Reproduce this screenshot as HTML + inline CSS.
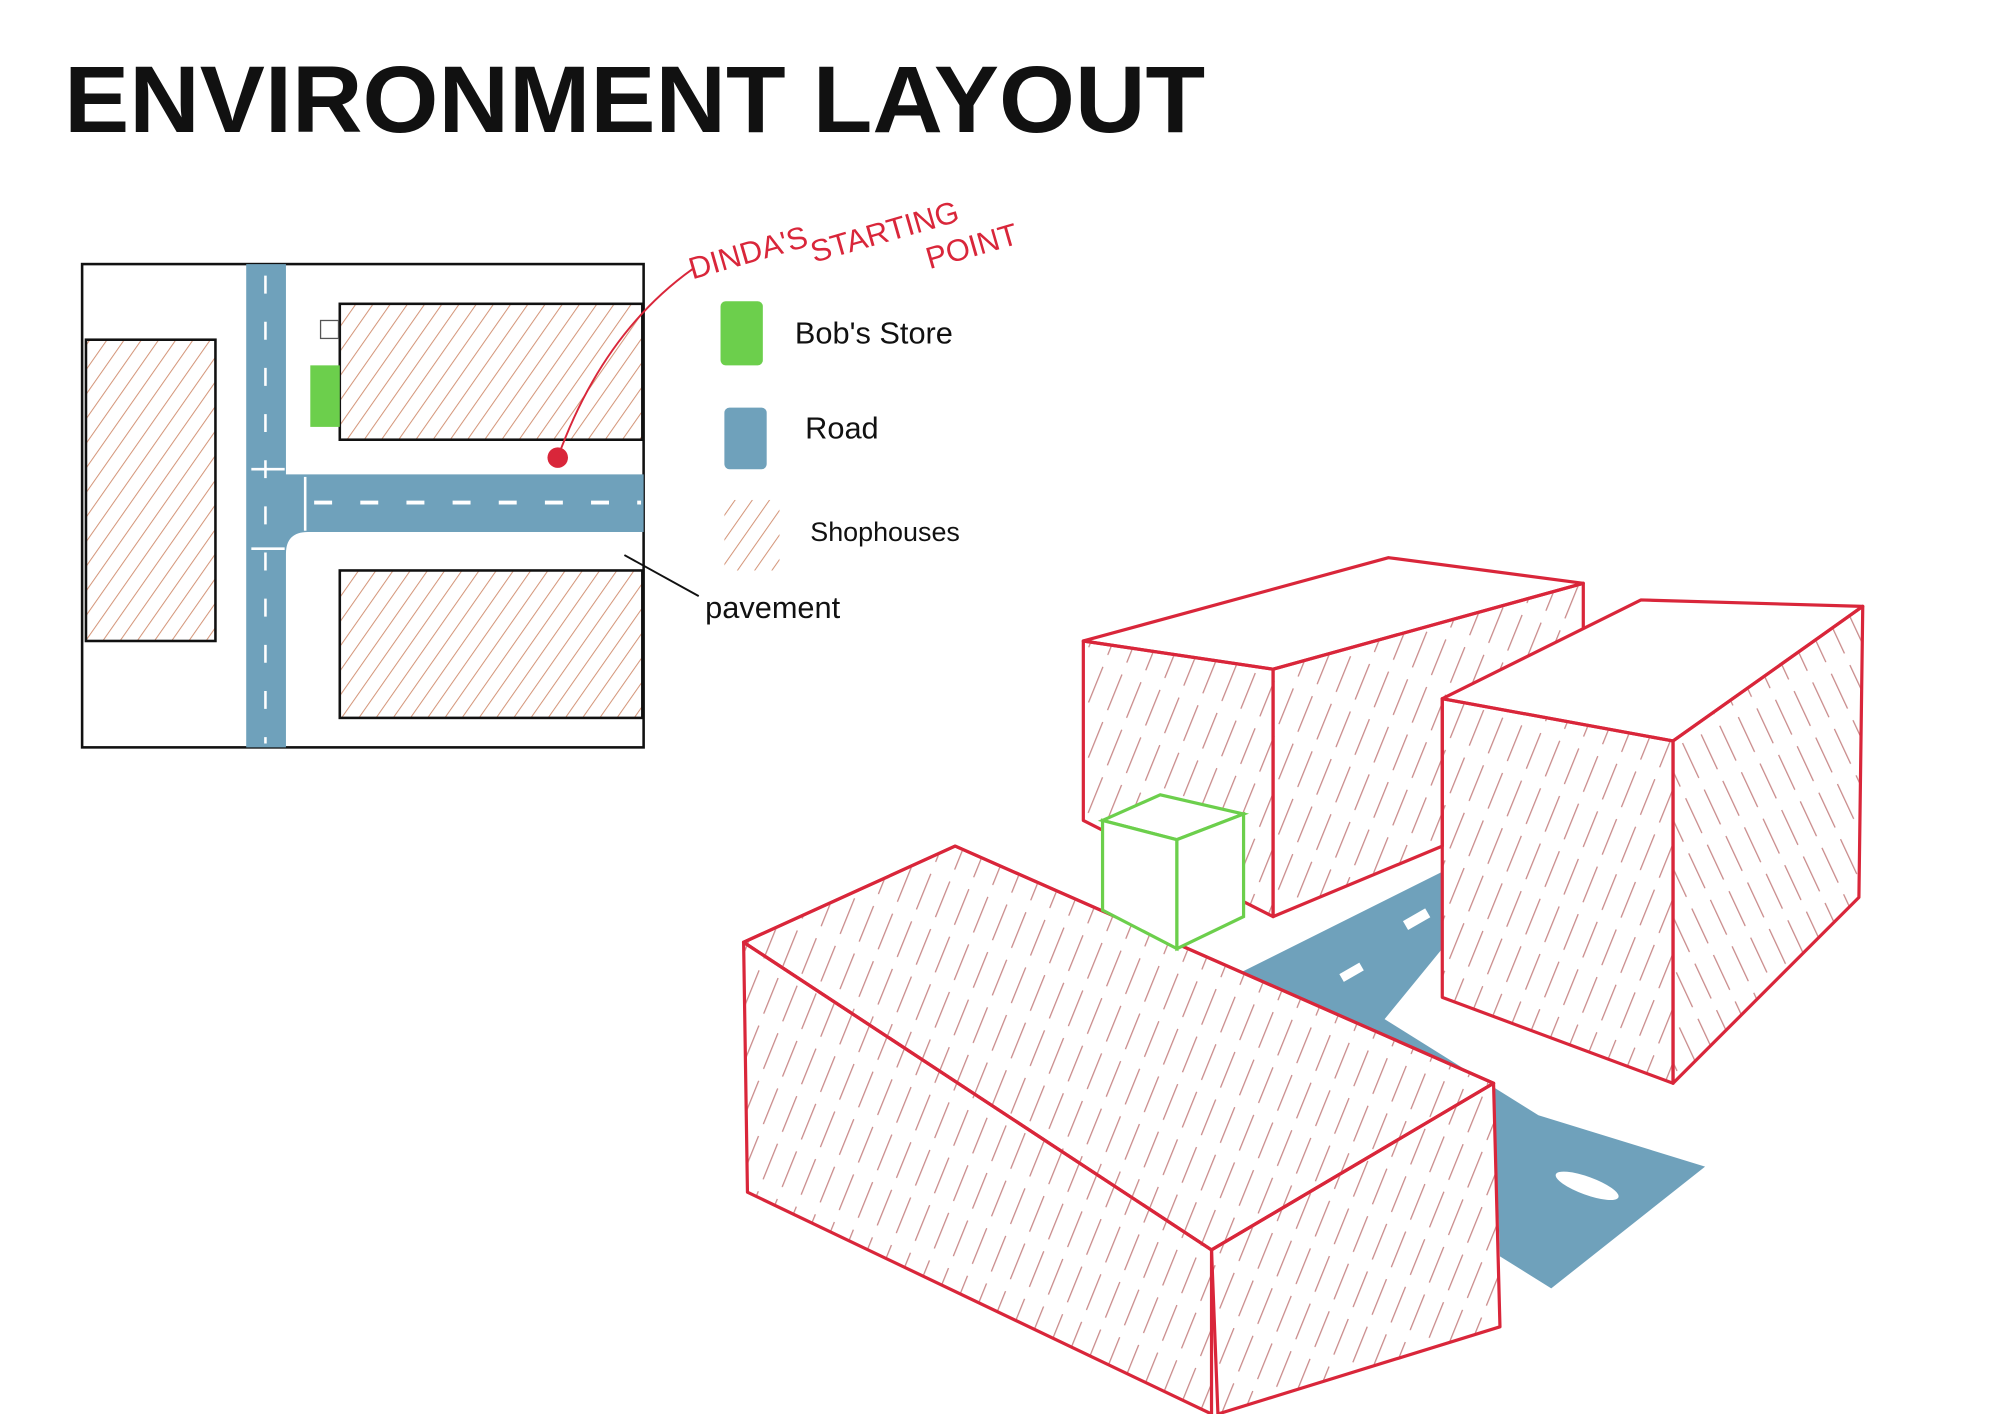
<!DOCTYPE html>
<html><head><meta charset="utf-8"><style>
html,body{margin:0;padding:0;background:#fff;}
svg{display:block;}
</style></head><body>
<svg width="2000" height="1414" viewBox="0 0 1560 1103" xmlns="http://www.w3.org/2000/svg">
<defs>
<pattern id="hb" patternUnits="userSpaceOnUse" width="11" height="11" patternTransform="rotate(35)">
<line x1="0" y1="0" x2="0" y2="11" stroke="#d4967a" stroke-width="1.6"/></pattern>
<pattern id="hr" patternUnits="userSpaceOnUse" width="16" height="40" patternTransform="rotate(22)">
<line x1="0" y1="0" x2="0" y2="30" stroke="#c98a8a" stroke-width="2"/></pattern>
<pattern id="hr2" patternUnits="userSpaceOnUse" width="16" height="40" patternTransform="rotate(-25)">
<line x1="0" y1="0" x2="0" y2="30" stroke="#c98a8a" stroke-width="2"/></pattern>
</defs>
<rect width="1560" height="1103" fill="#fff"/>
<text x="50" y="103" font-family="Liberation Sans, sans-serif" font-weight="bold" font-size="74" fill="#111" textLength="890" lengthAdjust="spacingAndGlyphs">ENVIRONMENT LAYOUT</text>

<!-- map -->
<rect x="64" y="206" width="438" height="377" fill="none" stroke="#111" stroke-width="2"/>
<rect x="67" y="265" width="101" height="235" fill="url(#hb)" stroke="#111" stroke-width="2"/>
<rect x="265" y="237" width="236" height="106" fill="url(#hb)" stroke="#111" stroke-width="2"/>
<rect x="265" y="445" width="236" height="115" fill="url(#hb)" stroke="#111" stroke-width="2"/>
<path d="M192 206 H223 V370 H502 V415 H240 Q223 415 223 432 V583 H192 Z" fill="#6fa1bb"/>
<line x1="207" y1="215" x2="207" y2="580" stroke="#fff" stroke-width="2" stroke-dasharray="14 22"/>
<line x1="245" y1="392" x2="500" y2="392" stroke="#fff" stroke-width="3" stroke-dasharray="14 22"/>
<line x1="196" y1="366" x2="222" y2="366" stroke="#fff" stroke-width="2"/>
<line x1="196" y1="428" x2="222" y2="428" stroke="#fff" stroke-width="2"/>
<line x1="238" y1="372" x2="238" y2="414" stroke="#fff" stroke-width="2"/>
<rect x="242" y="285" width="23" height="48" fill="#6ccf4c"/>
<rect x="250" y="250" width="14" height="14" fill="none" stroke="#555" stroke-width="1"/>
<circle cx="435" cy="357" r="8" fill="#d9263a"/>
<path d="M435 357 Q470 260 540 210" fill="none" stroke="#d9263a" stroke-width="1.5"/>
<g font-family="Liberation Sans, sans-serif" fill="#d9263a" font-size="24">
<text x="540" y="218" transform="rotate(-16 540 218)">DINDA'S</text>
<text x="635" y="205" transform="rotate(-16 635 205)">STARTING</text>
<text x="725" y="210" transform="rotate(-16 725 210)">POINT</text>
</g>
<rect x="562" y="235" width="33" height="50" rx="4" fill="#6ccf4c"/>
<rect x="565" y="318" width="33" height="48" rx="4" fill="#6fa1bb"/>
<rect x="565" y="390" width="43" height="55" fill="url(#hb)"/>
<g font-family="Liberation Sans, sans-serif" fill="#111" font-size="24">
<text x="620" y="268">Bob's Store</text>
<text x="628" y="342">Road</text>
<text x="632" y="422" font-size="21">Shophouses</text>
<text x="550" y="482">pavement</text>
</g>
<line x1="487" y1="433" x2="545" y2="465" stroke="#111" stroke-width="1.5"/>

<!-- 3D -->
<g stroke="#d9263a" stroke-width="2.5" stroke-linejoin="round">
<polygon points="845,500 1083,435 1235,455 993,522" fill="#fff"/>
<polygon points="845,500 993,522 993,715 845,640" fill="url(#hr)"/>
<polygon points="993,522 1235,455 1235,545 1125,545 1125,660 993,715" fill="url(#hr)"/>
<polygon points="965,760 1125,680 1125,740 1080,795 1200,870 1330,910 1210,1005 1170,980 1165,845 1050,795" fill="#6fa1bb" stroke="none"/>
<polygon points="1125,545 1280,468 1453,473 1305,578" fill="#fff"/>
<polygon points="1125,545 1305,578 1305,845 1125,778" fill="url(#hr)"/>
<polygon points="1305,578 1453,473 1450,700 1305,845" fill="url(#hr2)"/>
<polygon points="580,735 745,660 1165,845 945,975" fill="#fff"/>
<polygon points="580,735 745,660 1165,845 945,975" fill="url(#hr)"/>
<polygon points="580,735 945,975 945,1103 583,930" fill="url(#hr)"/>
<polygon points="945,975 1165,845 1170,1035 950,1103" fill="url(#hr)"/>
</g>
<g stroke="#6ccf4c" stroke-width="2.5" fill="#fff">
<polygon points="860,640 905,620 970,635 918,655"/>
<polygon points="860,640 918,655 918,740 860,710"/>
<polygon points="918,655 970,635 970,715 918,740"/>
</g>
<g fill="#fff"><rect x="1095" y="713" width="20" height="8" transform="rotate(-30 1105 717)"/>
<rect x="1045" y="755" width="18" height="7" transform="rotate(-30 1054 758)"/>
<ellipse cx="1238" cy="925" rx="26" ry="7" transform="rotate(20 1238 925)"/></g>
</svg>
</body></html>
